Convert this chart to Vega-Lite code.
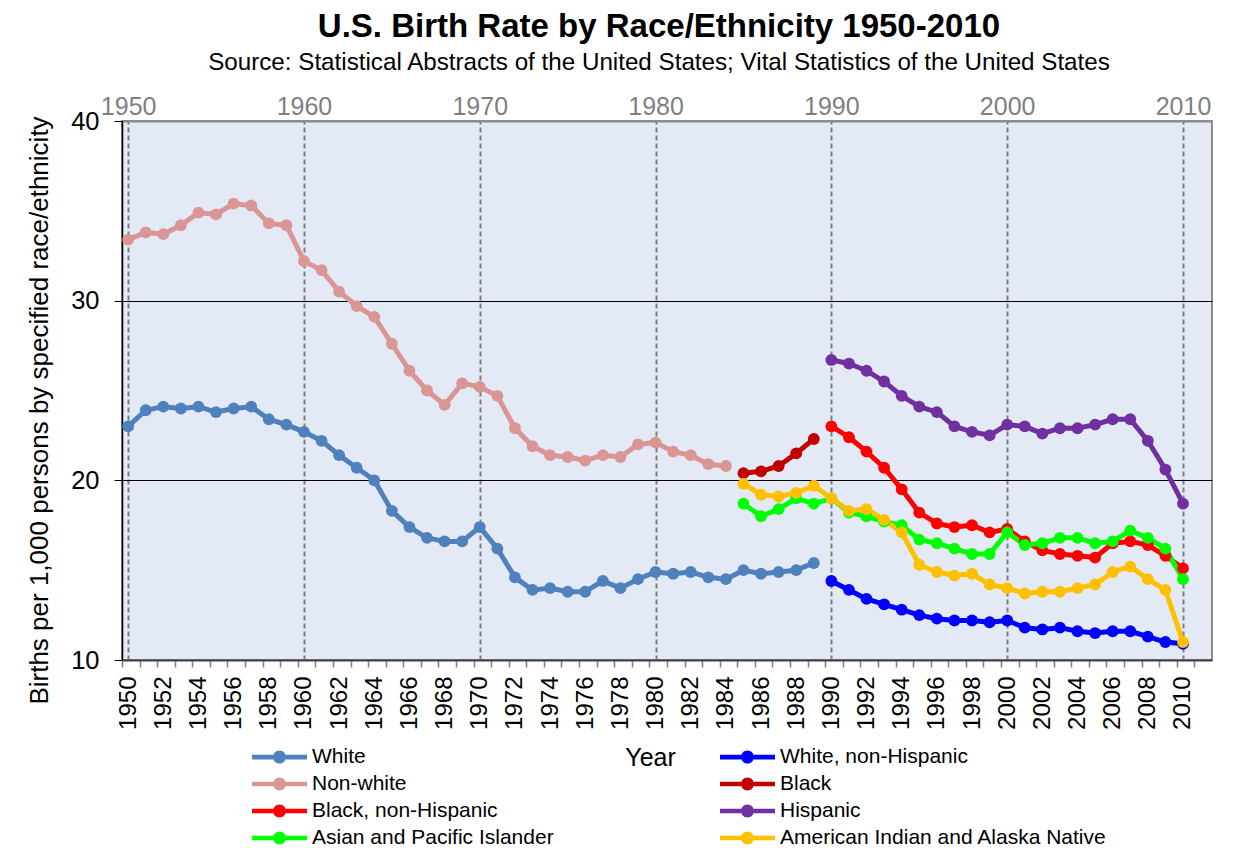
{
  "$schema": "https://vega.github.io/schema/vega-lite/v6.json",
  "width": 1090,
  "height": 539,
  "autosize": {"type": "none"},
  "padding": {"left": 122, "top": 121, "right": 41, "bottom": 188},
  "background": "white",
  "config": {
    "font": "Liberation Sans",
    "view": {"fill": "#E3EAF5", "stroke": "#8C8C8C", "strokeWidth": 2}
  },
  "title": {
    "text": "U.S. Birth Rate by Race/Ethnicity 1950-2010",
    "subtitle": "Source: Statistical Abstracts of the United States; Vital Statistics of the United States",
    "fontSize": 33,
    "fontWeight": "bold",
    "color": "black",
    "subtitleFontSize": 24.2,
    "subtitleColor": "black",
    "subtitlePadding": 7,
    "anchor": "middle",
    "dx": -8,
    "offset": 19
  },
  "data": {
    "values": [
      {"year": 1950, "race": "White", "rate": 23.0},
      {"year": 1951, "race": "White", "rate": 23.9},
      {"year": 1952, "race": "White", "rate": 24.1},
      {"year": 1953, "race": "White", "rate": 24.0},
      {"year": 1954, "race": "White", "rate": 24.1},
      {"year": 1955, "race": "White", "rate": 23.8},
      {"year": 1956, "race": "White", "rate": 24.0},
      {"year": 1957, "race": "White", "rate": 24.1},
      {"year": 1958, "race": "White", "rate": 23.4},
      {"year": 1959, "race": "White", "rate": 23.1},
      {"year": 1960, "race": "White", "rate": 22.7},
      {"year": 1961, "race": "White", "rate": 22.2},
      {"year": 1962, "race": "White", "rate": 21.4},
      {"year": 1963, "race": "White", "rate": 20.7},
      {"year": 1964, "race": "White", "rate": 20.0},
      {"year": 1965, "race": "White", "rate": 18.3},
      {"year": 1966, "race": "White", "rate": 17.4},
      {"year": 1967, "race": "White", "rate": 16.8},
      {"year": 1968, "race": "White", "rate": 16.6},
      {"year": 1969, "race": "White", "rate": 16.6},
      {"year": 1970, "race": "White", "rate": 17.4},
      {"year": 1971, "race": "White", "rate": 16.2},
      {"year": 1972, "race": "White", "rate": 14.6},
      {"year": 1973, "race": "White", "rate": 13.9},
      {"year": 1974, "race": "White", "rate": 14.0},
      {"year": 1975, "race": "White", "rate": 13.8},
      {"year": 1976, "race": "White", "rate": 13.8},
      {"year": 1977, "race": "White", "rate": 14.4},
      {"year": 1978, "race": "White", "rate": 14.0},
      {"year": 1979, "race": "White", "rate": 14.5},
      {"year": 1980, "race": "White", "rate": 14.9},
      {"year": 1981, "race": "White", "rate": 14.8},
      {"year": 1982, "race": "White", "rate": 14.9},
      {"year": 1983, "race": "White", "rate": 14.6},
      {"year": 1984, "race": "White", "rate": 14.5},
      {"year": 1985, "race": "White", "rate": 15.0},
      {"year": 1986, "race": "White", "rate": 14.8},
      {"year": 1987, "race": "White", "rate": 14.9},
      {"year": 1988, "race": "White", "rate": 15.0},
      {"year": 1989, "race": "White", "rate": 15.4},
      {"year": 1990, "race": "White, non-Hispanic", "rate": 14.4},
      {"year": 1991, "race": "White, non-Hispanic", "rate": 13.9},
      {"year": 1992, "race": "White, non-Hispanic", "rate": 13.4},
      {"year": 1993, "race": "White, non-Hispanic", "rate": 13.1},
      {"year": 1994, "race": "White, non-Hispanic", "rate": 12.8},
      {"year": 1995, "race": "White, non-Hispanic", "rate": 12.5},
      {"year": 1996, "race": "White, non-Hispanic", "rate": 12.3},
      {"year": 1997, "race": "White, non-Hispanic", "rate": 12.2},
      {"year": 1998, "race": "White, non-Hispanic", "rate": 12.2},
      {"year": 1999, "race": "White, non-Hispanic", "rate": 12.1},
      {"year": 2000, "race": "White, non-Hispanic", "rate": 12.2},
      {"year": 2001, "race": "White, non-Hispanic", "rate": 11.8},
      {"year": 2002, "race": "White, non-Hispanic", "rate": 11.7},
      {"year": 2003, "race": "White, non-Hispanic", "rate": 11.8},
      {"year": 2004, "race": "White, non-Hispanic", "rate": 11.6},
      {"year": 2005, "race": "White, non-Hispanic", "rate": 11.5},
      {"year": 2006, "race": "White, non-Hispanic", "rate": 11.6},
      {"year": 2007, "race": "White, non-Hispanic", "rate": 11.6},
      {"year": 2008, "race": "White, non-Hispanic", "rate": 11.3},
      {"year": 2009, "race": "White, non-Hispanic", "rate": 11.0},
      {"year": 2010, "race": "White, non-Hispanic", "rate": 10.9},
      {"year": 1950, "race": "Non-white", "rate": 33.4},
      {"year": 1951, "race": "Non-white", "rate": 33.8},
      {"year": 1952, "race": "Non-white", "rate": 33.7},
      {"year": 1953, "race": "Non-white", "rate": 34.2},
      {"year": 1954, "race": "Non-white", "rate": 34.9},
      {"year": 1955, "race": "Non-white", "rate": 34.8},
      {"year": 1956, "race": "Non-white", "rate": 35.4},
      {"year": 1957, "race": "Non-white", "rate": 35.3},
      {"year": 1958, "race": "Non-white", "rate": 34.3},
      {"year": 1959, "race": "Non-white", "rate": 34.2},
      {"year": 1960, "race": "Non-white", "rate": 32.2},
      {"year": 1961, "race": "Non-white", "rate": 31.7},
      {"year": 1962, "race": "Non-white", "rate": 30.5},
      {"year": 1963, "race": "Non-white", "rate": 29.7},
      {"year": 1964, "race": "Non-white", "rate": 29.1},
      {"year": 1965, "race": "Non-white", "rate": 27.6},
      {"year": 1966, "race": "Non-white", "rate": 26.1},
      {"year": 1967, "race": "Non-white", "rate": 25.0},
      {"year": 1968, "race": "Non-white", "rate": 24.2},
      {"year": 1969, "race": "Non-white", "rate": 25.4},
      {"year": 1970, "race": "Non-white", "rate": 25.2},
      {"year": 1971, "race": "Non-white", "rate": 24.7},
      {"year": 1972, "race": "Non-white", "rate": 22.9},
      {"year": 1973, "race": "Non-white", "rate": 21.9},
      {"year": 1974, "race": "Non-white", "rate": 21.4},
      {"year": 1975, "race": "Non-white", "rate": 21.3},
      {"year": 1976, "race": "Non-white", "rate": 21.1},
      {"year": 1977, "race": "Non-white", "rate": 21.4},
      {"year": 1978, "race": "Non-white", "rate": 21.3},
      {"year": 1979, "race": "Non-white", "rate": 22.0},
      {"year": 1980, "race": "Non-white", "rate": 22.1},
      {"year": 1981, "race": "Non-white", "rate": 21.6},
      {"year": 1982, "race": "Non-white", "rate": 21.4},
      {"year": 1983, "race": "Non-white", "rate": 20.9},
      {"year": 1984, "race": "Non-white", "rate": 20.8},
      {"year": 1985, "race": "Black", "rate": 20.4},
      {"year": 1986, "race": "Black", "rate": 20.5},
      {"year": 1987, "race": "Black", "rate": 20.8},
      {"year": 1988, "race": "Black", "rate": 21.5},
      {"year": 1989, "race": "Black", "rate": 22.3},
      {"year": 1990, "race": "Black, non-Hispanic", "rate": 23.0},
      {"year": 1991, "race": "Black, non-Hispanic", "rate": 22.4},
      {"year": 1992, "race": "Black, non-Hispanic", "rate": 21.6},
      {"year": 1993, "race": "Black, non-Hispanic", "rate": 20.7},
      {"year": 1994, "race": "Black, non-Hispanic", "rate": 19.5},
      {"year": 1995, "race": "Black, non-Hispanic", "rate": 18.2},
      {"year": 1996, "race": "Black, non-Hispanic", "rate": 17.6},
      {"year": 1997, "race": "Black, non-Hispanic", "rate": 17.4},
      {"year": 1998, "race": "Black, non-Hispanic", "rate": 17.5},
      {"year": 1999, "race": "Black, non-Hispanic", "rate": 17.1},
      {"year": 2000, "race": "Black, non-Hispanic", "rate": 17.3},
      {"year": 2001, "race": "Black, non-Hispanic", "rate": 16.6},
      {"year": 2002, "race": "Black, non-Hispanic", "rate": 16.1},
      {"year": 2003, "race": "Black, non-Hispanic", "rate": 15.9},
      {"year": 2004, "race": "Black, non-Hispanic", "rate": 15.8},
      {"year": 2005, "race": "Black, non-Hispanic", "rate": 15.7},
      {"year": 2006, "race": "Black, non-Hispanic", "rate": 16.5},
      {"year": 2007, "race": "Black, non-Hispanic", "rate": 16.6},
      {"year": 2008, "race": "Black, non-Hispanic", "rate": 16.4},
      {"year": 2009, "race": "Black, non-Hispanic", "rate": 15.8},
      {"year": 2010, "race": "Black, non-Hispanic", "rate": 15.1},
      {"year": 1990, "race": "Hispanic", "rate": 26.7},
      {"year": 1991, "race": "Hispanic", "rate": 26.5},
      {"year": 1992, "race": "Hispanic", "rate": 26.1},
      {"year": 1993, "race": "Hispanic", "rate": 25.5},
      {"year": 1994, "race": "Hispanic", "rate": 24.7},
      {"year": 1995, "race": "Hispanic", "rate": 24.1},
      {"year": 1996, "race": "Hispanic", "rate": 23.8},
      {"year": 1997, "race": "Hispanic", "rate": 23.0},
      {"year": 1998, "race": "Hispanic", "rate": 22.7},
      {"year": 1999, "race": "Hispanic", "rate": 22.5},
      {"year": 2000, "race": "Hispanic", "rate": 23.1},
      {"year": 2001, "race": "Hispanic", "rate": 23.0},
      {"year": 2002, "race": "Hispanic", "rate": 22.6},
      {"year": 2003, "race": "Hispanic", "rate": 22.9},
      {"year": 2004, "race": "Hispanic", "rate": 22.9},
      {"year": 2005, "race": "Hispanic", "rate": 23.1},
      {"year": 2006, "race": "Hispanic", "rate": 23.4},
      {"year": 2007, "race": "Hispanic", "rate": 23.4},
      {"year": 2008, "race": "Hispanic", "rate": 22.2},
      {"year": 2009, "race": "Hispanic", "rate": 20.6},
      {"year": 2010, "race": "Hispanic", "rate": 18.7},
      {"year": 1985, "race": "Asian and Pacific Islander", "rate": 18.7},
      {"year": 1986, "race": "Asian and Pacific Islander", "rate": 18.0},
      {"year": 1987, "race": "Asian and Pacific Islander", "rate": 18.4},
      {"year": 1988, "race": "Asian and Pacific Islander", "rate": 19.0},
      {"year": 1989, "race": "Asian and Pacific Islander", "rate": 18.7},
      {"year": 1990, "race": "Asian and Pacific Islander", "rate": 19.0},
      {"year": 1991, "race": "Asian and Pacific Islander", "rate": 18.2},
      {"year": 1992, "race": "Asian and Pacific Islander", "rate": 18.0},
      {"year": 1993, "race": "Asian and Pacific Islander", "rate": 17.7},
      {"year": 1994, "race": "Asian and Pacific Islander", "rate": 17.5},
      {"year": 1995, "race": "Asian and Pacific Islander", "rate": 16.7},
      {"year": 1996, "race": "Asian and Pacific Islander", "rate": 16.5},
      {"year": 1997, "race": "Asian and Pacific Islander", "rate": 16.2},
      {"year": 1998, "race": "Asian and Pacific Islander", "rate": 15.9},
      {"year": 1999, "race": "Asian and Pacific Islander", "rate": 15.9},
      {"year": 2000, "race": "Asian and Pacific Islander", "rate": 17.1},
      {"year": 2001, "race": "Asian and Pacific Islander", "rate": 16.4},
      {"year": 2002, "race": "Asian and Pacific Islander", "rate": 16.5},
      {"year": 2003, "race": "Asian and Pacific Islander", "rate": 16.8},
      {"year": 2004, "race": "Asian and Pacific Islander", "rate": 16.8},
      {"year": 2005, "race": "Asian and Pacific Islander", "rate": 16.5},
      {"year": 2006, "race": "Asian and Pacific Islander", "rate": 16.6},
      {"year": 2007, "race": "Asian and Pacific Islander", "rate": 17.2},
      {"year": 2008, "race": "Asian and Pacific Islander", "rate": 16.8},
      {"year": 2009, "race": "Asian and Pacific Islander", "rate": 16.2},
      {"year": 2010, "race": "Asian and Pacific Islander", "rate": 14.5},
      {"year": 1985, "race": "American Indian and Alaska Native", "rate": 19.8},
      {"year": 1986, "race": "American Indian and Alaska Native", "rate": 19.2},
      {"year": 1987, "race": "American Indian and Alaska Native", "rate": 19.1},
      {"year": 1988, "race": "American Indian and Alaska Native", "rate": 19.3},
      {"year": 1989, "race": "American Indian and Alaska Native", "rate": 19.7},
      {"year": 1990, "race": "American Indian and Alaska Native", "rate": 19.0},
      {"year": 1991, "race": "American Indian and Alaska Native", "rate": 18.3},
      {"year": 1992, "race": "American Indian and Alaska Native", "rate": 18.4},
      {"year": 1993, "race": "American Indian and Alaska Native", "rate": 17.8},
      {"year": 1994, "race": "American Indian and Alaska Native", "rate": 17.1},
      {"year": 1995, "race": "American Indian and Alaska Native", "rate": 15.3},
      {"year": 1996, "race": "American Indian and Alaska Native", "rate": 14.9},
      {"year": 1997, "race": "American Indian and Alaska Native", "rate": 14.7},
      {"year": 1998, "race": "American Indian and Alaska Native", "rate": 14.8},
      {"year": 1999, "race": "American Indian and Alaska Native", "rate": 14.2},
      {"year": 2000, "race": "American Indian and Alaska Native", "rate": 14.0},
      {"year": 2001, "race": "American Indian and Alaska Native", "rate": 13.7},
      {"year": 2002, "race": "American Indian and Alaska Native", "rate": 13.8},
      {"year": 2003, "race": "American Indian and Alaska Native", "rate": 13.8},
      {"year": 2004, "race": "American Indian and Alaska Native", "rate": 14.0},
      {"year": 2005, "race": "American Indian and Alaska Native", "rate": 14.2},
      {"year": 2006, "race": "American Indian and Alaska Native", "rate": 14.9},
      {"year": 2007, "race": "American Indian and Alaska Native", "rate": 15.2},
      {"year": 2008, "race": "American Indian and Alaska Native", "rate": 14.5},
      {"year": 2009, "race": "American Indian and Alaska Native", "rate": 13.9},
      {"year": 2010, "race": "American Indian and Alaska Native", "rate": 11.0}
    ]
  },
  "encoding": {
    "y": {
      "field": "rate",
      "type": "quantitative",
      "scale": {"domain": [10, 40], "nice": false, "zero": false},
      "axis": {
        "values": [10, 20, 30, 40],
        "grid": true,
        "gridColor": {"condition": {"test": "datum.value == 20 || datum.value == 30", "value": "#000000"}, "value": "transparent"},
        "gridWidth": 1,
        "tickSize": 8,
        "tickColor": "#000000",
        "domainColor": "#000000",
        "domainWidth": 1.5,
        "labelFontSize": 25.5,
        "labelColor": "#000000",
        "labelPadding": 15,
        "title": "Births per 1,000 persons by specified race/ethnicity",
        "titleFontSize": 26,
        "titleFontWeight": "normal",
        "titleColor": "#000000",
        "titleY": 289,
        "titlePadding": 18
      }
    },
    "color": {
      "field": "race",
      "type": "nominal",
      "scale": {
        "domain": ["White", "Non-white", "Black, non-Hispanic", "Asian and Pacific Islander", "White, non-Hispanic", "Black", "Hispanic", "American Indian and Alaska Native"],
        "range": ["#4F81BD", "#D99694", "#FF0000", "#00FF00", "#0000FF", "#C00000", "#7030A0", "#FFC000"]
      },
      "legend": {
        "orient": "none",
        "legendX": 130,
        "legendY": 622.6,
        "columns": 2,
        "columnPadding": 166,
        "rowPadding": 0,
        "padding": 0,
        "clipHeight": 26.7,
        "title": null,
        "symbolType": "M-1,-0.084H-0.23V0.084H-1Z M0.23,-0.084H1V0.084H0.23Z M0.236,0A0.236,0.236 0 1 1 -0.236,0A0.236,0.236 0 1 1 0.236,0Z",
        "symbolSize": 3025,
        "symbolStrokeWidth": 0,
        "symbolOpacity": 1,
        "labelFontSize": 21,
        "labelColor": "#000000",
        "labelOffset": 5,
        "labelLimit": 500,
        "encode": {
          "symbols": {
            "update": {
              "fill": {"scale": "color", "field": "value"},
              "stroke": {"value": "transparent"},
              "opacity": {"value": 1}
            }
          }
        }
      }
    }
  },
  "resolve": {"axis": {"x": "independent"}},
  "layer": [
    {
      "mark": {"type": "line", "strokeWidth": 5, "strokeCap": "round", "strokeJoin": "round"},
      "encoding": {
        "x": {
          "field": "year",
          "type": "quantitative",
          "scale": {"domain": [1949.65, 2011.65], "nice": false, "zero": false},
          "axis": {
            "orient": "top",
            "values": [1950, 1960, 1970, 1980, 1990, 2000, 2010],
            "format": "d",
            "grid": true,
            "gridColor": "#7F7F7F",
            "gridDash": [5, 3],
            "gridWidth": 2,
            "ticks": false,
            "domainColor": "#8C8C8C",
            "domainWidth": 2,
            "labelColor": "#7F7F7F",
            "labelFontSize": 25,
            "labelPadding": 2,
            "labelFlush": false,
            "title": null,
            "zindex": 0
          }
        }
      }
    },
    {
      "mark": {"type": "point", "filled": true, "size": 140, "opacity": 1},
      "encoding": {
        "x": {
          "field": "year",
          "type": "quantitative",
          "scale": {"domain": [1949.65, 2011.65], "nice": false, "zero": false},
          "axis": {
            "orient": "bottom",
            "values": [1950, 1951, 1952, 1953, 1954, 1955, 1956, 1957, 1958, 1959, 1960, 1961, 1962, 1963, 1964, 1965, 1966, 1967, 1968, 1969, 1970, 1971, 1972, 1973, 1974, 1975, 1976, 1977, 1978, 1979, 1980, 1981, 1982, 1983, 1984, 1985, 1986, 1987, 1988, 1989, 1990, 1991, 1992, 1993, 1994, 1995, 1996, 1997, 1998, 1999, 2000, 2001, 2002, 2003, 2004, 2005, 2006, 2007, 2008, 2009, 2010, 2011, 2012],
            "format": "d",
            "labelExpr": "(datum.value % 2 == 0 && datum.value <= 2010) ? datum.label : ''",
            "tickOffset": -6.2,
            "labelOffset": 6.2,
            "tickSize": 7,
            "tickColor": "#7F7F7F",
            "tickWidth": 1.5,
            "domainColor": "#404040",
            "domainWidth": 2,
            "grid": false,
            "labelAngle": 270,
            "labelAlign": "right",
            "labelBaseline": "middle",
            "labelFontSize": 24,
            "labelColor": "#000000",
            "labelPadding": 9,
            "labelOverlap": false,
            "labelFlush": false,
            "labelBound": false,
            "title": "Year",
            "titleFontSize": 25,
            "titleFontWeight": "normal",
            "titleColor": "#000000",
            "titleX": 528,
            "titlePadding": 16,
            "zindex": 1
          }
        }
      }
    }
  ]
}
